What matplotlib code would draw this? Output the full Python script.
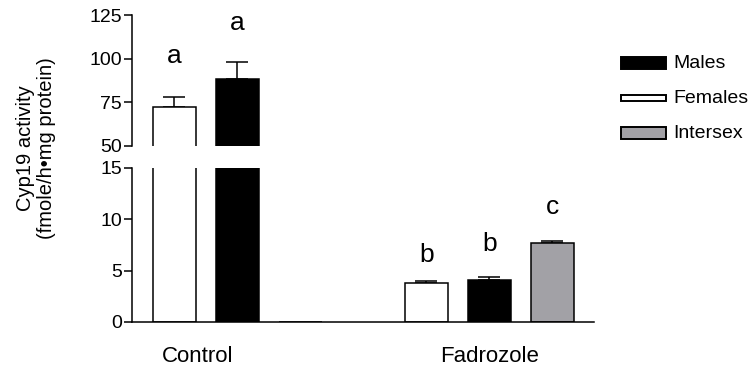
import numpy as np
import matplotlib.pyplot as plt
from matplotlib.patches import Rectangle

plt.rcParams["font.family"] = ["Liberation Sans", "DejaVu Sans"]

# bar positions: Control (0-2), Fadrozole (4-6)
groups = ["Control", "Fadrozole"]
group_pos = [0.37, 5]
sexes = ["Females", "Males", "Intersex"]
colors = {"Females": "white", "Males": "black", "Intersex": "#a2a1a6"}

pos = {"Females": [0, 4], "Males": [1, 5], "Intersex": [2, 6]}
means = {"Females": [72.3, 3.77], "Males": [88.0, 4.09], "Intersex": [0.0, 7.69]}
sems = {"Females": [5.4, 0.25], "Males": [9.8, 0.32], "Intersex": [0.0, 0.20]}

letters = ["a", "a", "b", "b", "c"]
letter_x = [0, 1, 4, 5, 6]
letter_y = [94.5, 113.5, 5.4, 6.4, 10.0]

fig = plt.figure(figsize=(7.51, 3.68), dpi=100)
ax_top = fig.add_axes([0.1764, 0.6046, 0.6145, 0.3546])
ax_bot = fig.add_axes([0.1764, 0.125, 0.6145, 0.4185])

for ax in (ax_top, ax_bot):
    for s in sexes:
        ax.bar(pos[s], means[s], width=0.68, color=colors[s],
               edgecolor="black", linewidth=1.1, zorder=2)
        x = [p for p, e in zip(pos[s], sems[s]) if e > 0]
        m = [v for v, e in zip(means[s], sems[s]) if e > 0]
        e = [e for e in sems[s] if e > 0]
        ax.errorbar(x, m, yerr=[np.zeros(len(e)), e], fmt="none",
                    ecolor="black", elinewidth=1.1, capsize=8, capthick=1.1,
                    zorder=1)
    ax.set_xlim(-0.667, 6.66)
    ax.spines["top"].set_visible(False)
    ax.spines["right"].set_visible(False)
    ax.spines["left"].set_linewidth(1.1)
    ax.spines["bottom"].set_linewidth(1.1)
    ax.tick_params(axis="y", length=5.5, width=1.1, labelsize=14, pad=2)

ax_top.set_ylim(50, 125)
ax_top.set_yticks([50, 75, 100, 125])
ax_top.spines["bottom"].set_visible(False)
ax_top.set_xticks([])

ax_bot.set_ylim(0, 15)
ax_bot.set_yticks([0, 5, 10, 15])
ax_bot.set_xticks(group_pos)
ax_bot.set_xticklabels(groups, fontsize=16)
ax_bot.tick_params(axis="x", length=0, pad=17)

for t, x, y in zip(letters, letter_x, letter_y):
    ax = ax_top if y > 15 else ax_bot
    ax.text(x, y, t, ha="center", va="bottom", fontsize=19)

fig.text(0.048, 0.598, "Cyp19 activity\n(fmole/h\u2022mg protein)",
         rotation=90, ha="center", va="center", fontsize=14.5,
         linespacing=1.1)

# legend drawn by hand
legend_rows = [("Males", 0.8117, 0.0342), ("Females", 0.7255, 0.0163),
               ("Intersex", 0.6223, 0.0318)]
for name, y0, h in legend_rows:
    fig.add_artist(Rectangle((0.8269, y0), 0.0599, h, transform=fig.transFigure,
                             facecolor=colors[name], edgecolor="black",
                             linewidth=1.4))
    fig.text(0.896, y0 + h / 2, name, ha="left", va="center", fontsize=14)

fig.savefig("out.png", dpi=100)
